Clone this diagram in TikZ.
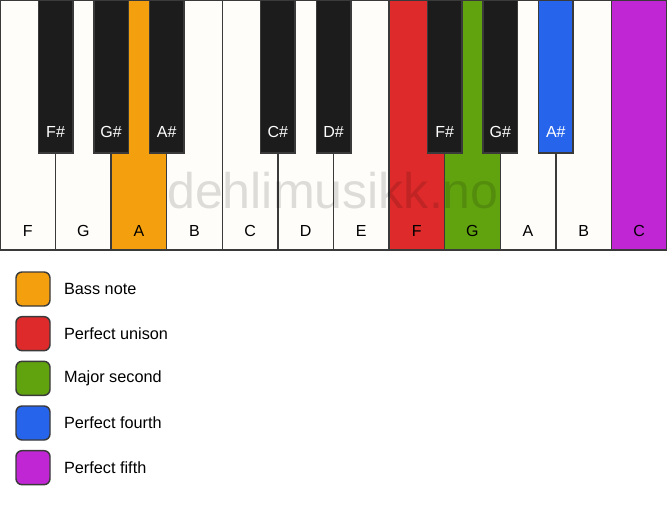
\documentclass[tikz,border=0pt]{standalone}
\usepackage{fontspec}
\setmainfont{Liberation Sans}
\usetikzlibrary{positioning}

\definecolor{keyivory}{HTML}{FFFDFA}
\definecolor{keyblack}{HTML}{1C1C1C}
\definecolor{keyline}{HTML}{3A3A3A}
\definecolor{bassorange}{HTML}{F4A00E}
\definecolor{unisonred}{HTML}{DE2A2A}
\definecolor{secondgreen}{HTML}{61A30F}
\definecolor{fourthblue}{HTML}{2664EB}
\definecolor{fifthpurple}{HTML}{C026D3}

\tikzset{
  whitekey/.style = {draw=keyline, line width=1.1pt, minimum width=41.69pt,
    minimum height=187.5pt, inner sep=0pt},
  blackkey/.style = {draw=keyline, line width=1.1pt, minimum width=25.9pt,
    minimum height=114.75pt, inner sep=0pt},
  keylabel/.style = {anchor=base, inner sep=0pt, font=\fontsize{12}{14}\selectfont},
  legendbox/.style = {draw=keyline, line width=1.1pt, rounded corners=4.5pt,
    minimum size=25.5pt, inner sep=0pt},
  legendtext/.style = {inner sep=0pt, font=\fontsize{12.2}{14}\selectfont}
}

\begin{document}
\begin{tikzpicture}[x=0.75pt, y=-0.75pt]
\useasboundingbox (0,0) rectangle (667,506);
\fill[white] (0,0) rectangle (667,506);

% white keys
\foreach \n/\c [count=\i] in {F/keyivory, G/keyivory, A/bassorange, B/keyivory,
    C/keyivory, D/keyivory, E/keyivory, F/unisonred, G/secondgreen,
    A/keyivory, B/keyivory, C/fifthpurple} {
  \node[whitekey, fill=\c] (w\i) at ({(\i-0.5)*55.583}, 125) {};
  \node[keylabel] (wl\i) at ([yshift=10.5pt]w\i.south) {\n};
}

% watermark
\node[inner sep=0pt, anchor=base, text=black, text opacity=0.13,
  font=\fontsize{37.6}{42}\selectfont] (mark) at (333, 209) {dehlimusikk.no};

% black keys
\foreach \p/\n/\c in {1/F\#/keyblack, 2/G\#/keyblack, 3/A\#/keyblack,
    5/C\#/keyblack, 6/D\#/keyblack, 8/F\#/keyblack, 9/G\#/keyblack,
    10/A\#/fourthblue} {
  \node[blackkey, fill=\c] (b\p) at ({\p*55.583}, 76.5) {};
  \node[keylabel, text=white] (bl\p) at ([yshift=12pt]b\p.south) {\n};
}

% legend
\node[legendbox, fill=bassorange] (l1) at (33, 289) {};
\node[legendbox, fill=unisonred, below=6.9pt of l1] (l2) {};
\node[legendbox, fill=secondgreen, below=6.9pt of l2] (l3) {};
\node[legendbox, fill=fourthblue, below=6.9pt of l3] (l4) {};
\node[legendbox, fill=fifthpurple, below=6.9pt of l4] (l5) {};

\node[legendtext, right=9.8pt of l1] (t1) {Bass note};
\node[legendtext, right=9.8pt of l2] (t2) {Perfect unison};
\node[legendtext, right=9.8pt of l3] (t3) {Major second};
\node[legendtext, right=9.8pt of l4] (t4) {Perfect fourth};
\node[legendtext, right=9.8pt of l5] (t5) {Perfect fifth};
\end{tikzpicture}
\end{document}
